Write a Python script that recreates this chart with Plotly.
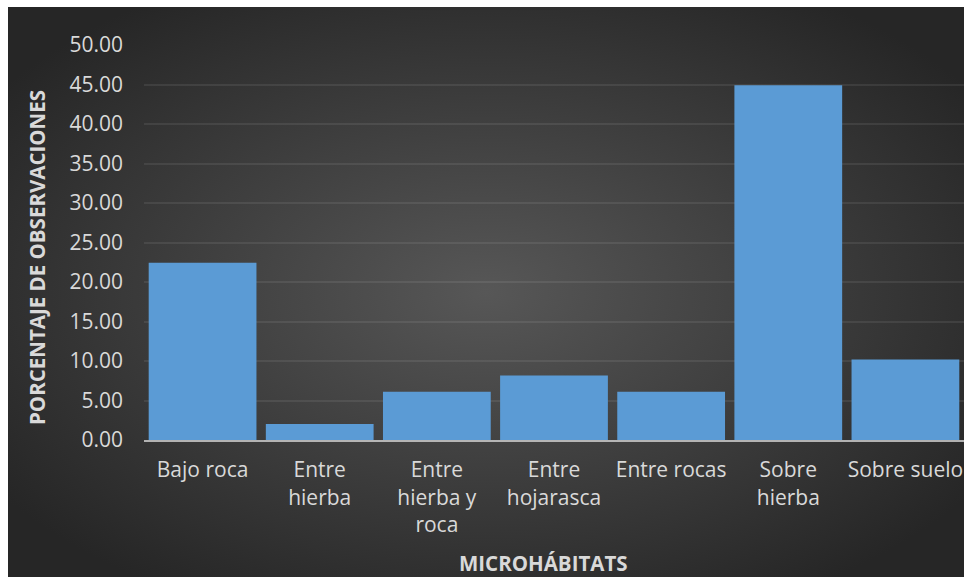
import base64
import plotly.graph_objects as go

# Microhabitat use (percentage of observations)
categories = ["Bajo roca", "Entre<br>hierba", "Entre<br>hierba y<br>roca", "Entre<br>hojarasca",
              "Entre rocas", "Sobre<br>hierba", "Sobre suelo"]
percentages = [22.45, 2.04, 6.12, 8.16, 6.12, 44.90, 10.20]
y_ticks = [0, 5, 10, 15, 20, 25, 30, 35, 40, 45, 50]

W, H = 964, 577
L, R, T, B = 144, 0, 45, 137
plot_w, plot_h = W - L - R, H - T - B

# dark radial-gradient backdrop for the chart area
svg = f"""<svg xmlns='http://www.w3.org/2000/svg' width='956' height='570' viewBox='0 0 956 570' preserveAspectRatio='none'>
<defs><radialGradient id='g' cx='50%' cy='50%' r='62%'>
<stop offset='0' stop-color='#575757'/><stop offset='1' stop-color='#262626'/></radialGradient></defs>
<rect width='956' height='570' fill='url(#g)'/></svg>"""
bg_src = "data:image/svg+xml;base64," + base64.b64encode(svg.encode()).decode()

def px_x(x):
    return (x - L) / plot_w

def px_y(y):
    return (H - B - y) / plot_h

fig = go.Figure(go.Bar(
    x=categories,
    y=percentages,
    marker=dict(color="#5b9bd5", line=dict(width=0)),
    hovertemplate="%{y:.2f}<extra></extra>",
))

font_color = "#d9d9d9"
fig.update_layout(
    width=W, height=H,
    margin=dict(l=L, r=R, t=T, b=B, pad=0),
    paper_bgcolor="white",
    plot_bgcolor="rgba(0,0,0,0)",
    bargap=0.08,
    showlegend=False,
    font=dict(family="Open Sans", color=font_color, size=21),
    images=[dict(source=bg_src, xref="paper", yref="paper",
                 x=px_x(8), y=px_y(7), sizex=(W - 8) / plot_w, sizey=(H - 7) / plot_h,
                 xanchor="left", yanchor="top", sizing="stretch", layer="below")],
    xaxis=dict(
        showgrid=False, showline=True, linecolor="rgba(210,210,210,0.8)", linewidth=2,
        ticks="", tickfont=dict(size=21, color=font_color), ticklabelstandoff=10,
    ),
    yaxis=dict(
        range=[0, 50], tickvals=y_ticks, tickformat=".2f",
        showgrid=True, gridcolor="rgba(255,255,255,0.08)", gridwidth=2,
        zeroline=False, showline=False, ticks="",
        tickfont=dict(size=21, color=font_color), ticklabelstandoff=20,
    ),
    annotations=[
        dict(text="<b>MICROHÁBITATS</b>", xref="paper", yref="paper",
             x=px_x(543), y=px_y(563), showarrow=False,
             font=dict(size=20.5, color=font_color), xanchor="center", yanchor="middle"),
        dict(text="<b>PORCENTAJE DE OBSERVACIONES</b>", xref="paper", yref="paper",
             x=px_x(37), y=px_y(258), showarrow=False, textangle=-90,
             font=dict(size=20.5, color=font_color), xanchor="center", yanchor="middle"),
    ],
)

fig.write_html("out.html")
